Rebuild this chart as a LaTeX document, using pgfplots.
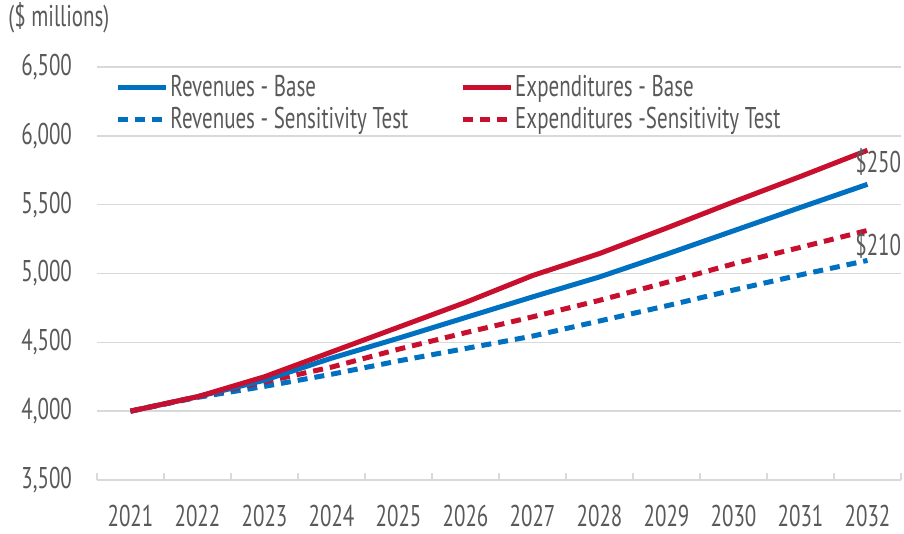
\documentclass[border=0pt]{standalone}
\usepackage{pgfplots}
\pgfplotsset{compat=1.18}
\usepackage{pgfplotstable}
\usepackage{fontspec}
\setmainfont{PT Sans}[FakeStretch=0.7]

\definecolor{revblue}{HTML}{0070C0}
\definecolor{expred}{HTML}{C8102E}
\definecolor{txtgray}{HTML}{595959}
\definecolor{gridgray}{HTML}{D9D9D9}

% $ millions, base vs sensitivity test
\pgfplotstableread{
x year revbase expbase revsens expsens
0  2021 4000 4000 4000 4000
1  2022 4105 4105 4100 4105
2  2023 4225 4250 4180 4213
3  2024 4385 4430 4268 4320
4  2025 4530 4610 4365 4450
5  2026 4680 4790 4455 4570
6  2027 4830 4985 4545 4685
7  2028 4975 5145 4655 4805
8  2029 5140 5330 4765 4935
9  2030 5310 5520 4880 5070
10 2031 5480 5705 4990 5190
11 2032 5648 5895 5095 5313
}\projections

\begin{document}
\begin{tikzpicture}
  \begin{axis}[
      scale only axis,
      width=402pt,
      height=206.5pt,
      xmin=-0.5, xmax=11.5,
      ymin=3500, ymax=6500,
      xtick={0,...,11},
      xticklabels={2021,2022,2023,2024,2025,2026,2027,2028,2029,2030,2031,2032},
      minor xtick={-0.5,0.5,...,11.5},
      ytick={3500,4000,...,6500},
      major tick length=0pt,
      minor tick length=3.5pt,
      tick align=inside,
      axis x line*=bottom,
      axis y line*=left,
      x axis line style={draw=gridgray,line width=1pt,-},
      y axis line style={draw=none},
      xtick style={draw=gridgray,line width=1pt},
      ytick style={draw=none},
      ymajorgrids,
      grid style={gridgray,line width=0.75pt},
      font=\fontsize{15}{17}\selectfont,
      tick label style={text=txtgray},
      /pgf/number format/assume math mode=true,
      /pgf/number format/1000 sep={,},
      xticklabel style={yshift=-9pt},
      yticklabel style={xshift=-9pt},
      clip=false,
      legend columns=2,
      legend cell align=left,
      legend style={at={(rel axis cs:0.0225,0.985)},anchor=north west,draw=none,fill=none,
        text=txtgray,inner sep=0pt,row sep=1.5pt,
        nodes={inner sep=1pt},
        /tikz/every even column/.append style={column sep=25pt}},
      legend image code/.code={\draw[#1] (0pt,0pt) -- (24pt,0pt);},
      every axis plot/.append style={line width=2.5pt,line join=round},
    ]
    \addlegendimage{revblue}
    \addlegendentry{Revenues - Base}
    \addlegendimage{expred}
    \addlegendentry{Expenditures - Base}
    \addlegendimage{revblue,dash pattern=on 5pt off 3.5pt}
    \addlegendentry{Revenues - Sensitivity Test}
    \addlegendimage{expred,dash pattern=on 5pt off 3.5pt}
    \addlegendentry{Expenditures -Sensitivity Test}

    \addplot[revblue,dash pattern=on 5pt off 3.5pt,forget plot] table[x=x,y=revsens] {\projections};
    \addplot[expred,dash pattern=on 5pt off 3.5pt,forget plot] table[x=x,y=expsens] {\projections};
    \addplot[revblue,forget plot] table[x=x,y=revbase] {\projections};
    \addplot[expred,forget plot] table[x=x,y=expbase] {\projections};

    \node[text=txtgray,inner sep=0pt] at (axis cs:11.16,5810) {\$250};
    \node[text=txtgray,inner sep=0pt] at (axis cs:11.16,5205) {\$210};
    \node[text=txtgray,inner sep=0pt,anchor=west]
      at ([xshift=-44.5pt,yshift=24.5pt]rel axis cs:0,1) {(\$ millions)};
  \end{axis}
  \path ([shift={(-48.5pt,-25.5pt)}]current axis.south west)
    rectangle ([shift={(1.5pt,33.5pt)}]current axis.north east);
\end{tikzpicture}
\end{document}
